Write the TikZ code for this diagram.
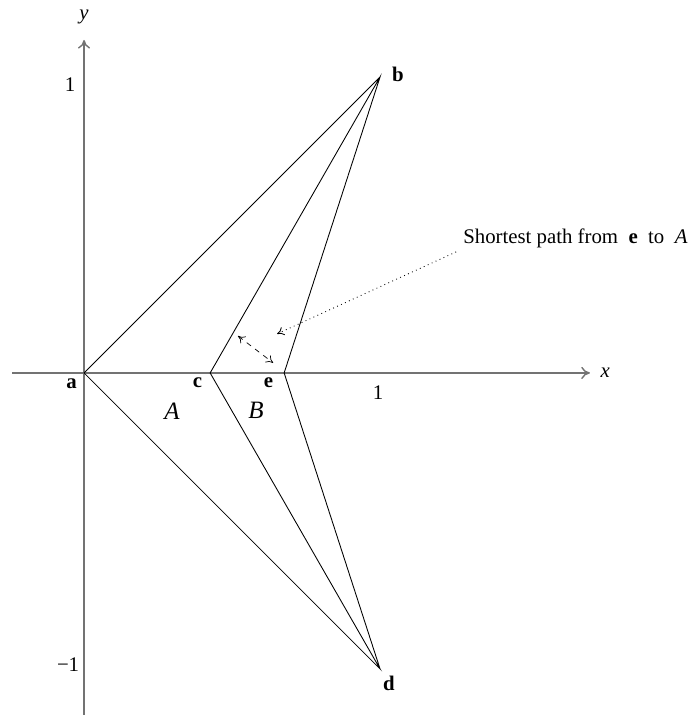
\documentclass[tikz,border=0pt]{standalone}
\usepackage{fontspec}
\setmainfont{Liberation Serif}
\usetikzlibrary{arrows.meta,positioning}
\tikzset{axis/.style = {draw = black!55, line width = 0.8pt, -{To[length=5pt,width=7pt]}},
         edge/.style = {draw, line width = 0.5pt},
         point/.style = {coordinate},
         vlabel/.style = {font = \bfseries\large, inner sep = 0pt},
         tick/.style = {font = \large, inner sep = 0pt},
         region/.style = {font = \Large\itshape, inner sep = 0pt},
}

\begin{document}
\begin{tikzpicture}[x = 6cm, y = 6cm]
  \useasboundingbox (-0.284,-1.159) rectangle (2.057,1.260);

  % axes
  \coordinate (xl) at (-0.243,0);
  \coordinate (xr) at (1.709,0);
  \coordinate (yb) at (0,-1.155);
  \coordinate (yt) at (0,1.125);
  \draw[axis] (xl) -- (xr);
  \draw[axis] (yb) -- (yt);
  \node[font = \large\itshape, right = 6pt of xr, inner sep = 0pt] (xlab) {x};
  \node[font = \large\itshape, above = 9pt of yt, inner sep = 0pt] (ylab) {y};
  \node[tick] at (-0.047,0.973) (one_y) {1};
  \node[tick] at (-0.054,-0.986) (mone_y) {−1};
  \node[tick] at (0.993,-0.068) (one_x) {1};

  % vertices
  \node[point] (a) at (0,0) {};
  \node[point] (b) at (1,1) {};
  \node[point] (c) at (0.426,0) {};
  \node[point] (e) at (0.676,0) {};
  \node[point] (d) at (1,-1) {};

  \node[vlabel] at (-0.042,-0.038) (la) {a};
  \node[vlabel] at (1.060,1.010) (lb) {b};
  \node[vlabel] at (0.383,-0.033) (lc) {c};
  \node[vlabel] at (0.623,-0.033) (le) {e};
  \node[vlabel] at (1.030,-1.048) (ld) {d};

  \node[region] at (0.297,-0.128) (rA) {A};
  \node[region] at (0.581,-0.128) (rB) {B};

  \draw[edge] (b) -- (a) -- (d) -- (c) -- (b) -- (e) -- (d);

  % shortest path
  \coordinate (p1) at (0.520,0.125);
  \coordinate (p2) at (0.639,0.034);
  \draw[dashed, line width = 0.4pt, {To[length=4pt,width=5pt]}-{To[length=4pt,width=5pt]}] (p1) -- (p2);

  \node[font = \large, anchor = west, inner sep = 0pt] at (1.280,0.456) (note)
    {Shortest path from~~\textbf{e}~~to~~\textit{A}};
  \coordinate (q1) at (1.257,0.409);
  \coordinate (q2) at (0.652,0.132);
  \draw[dotted, line width = 0.5pt, -{To[length=4pt,width=5pt]}] (q1) -- (q2);

\end{tikzpicture}
\end{document}
